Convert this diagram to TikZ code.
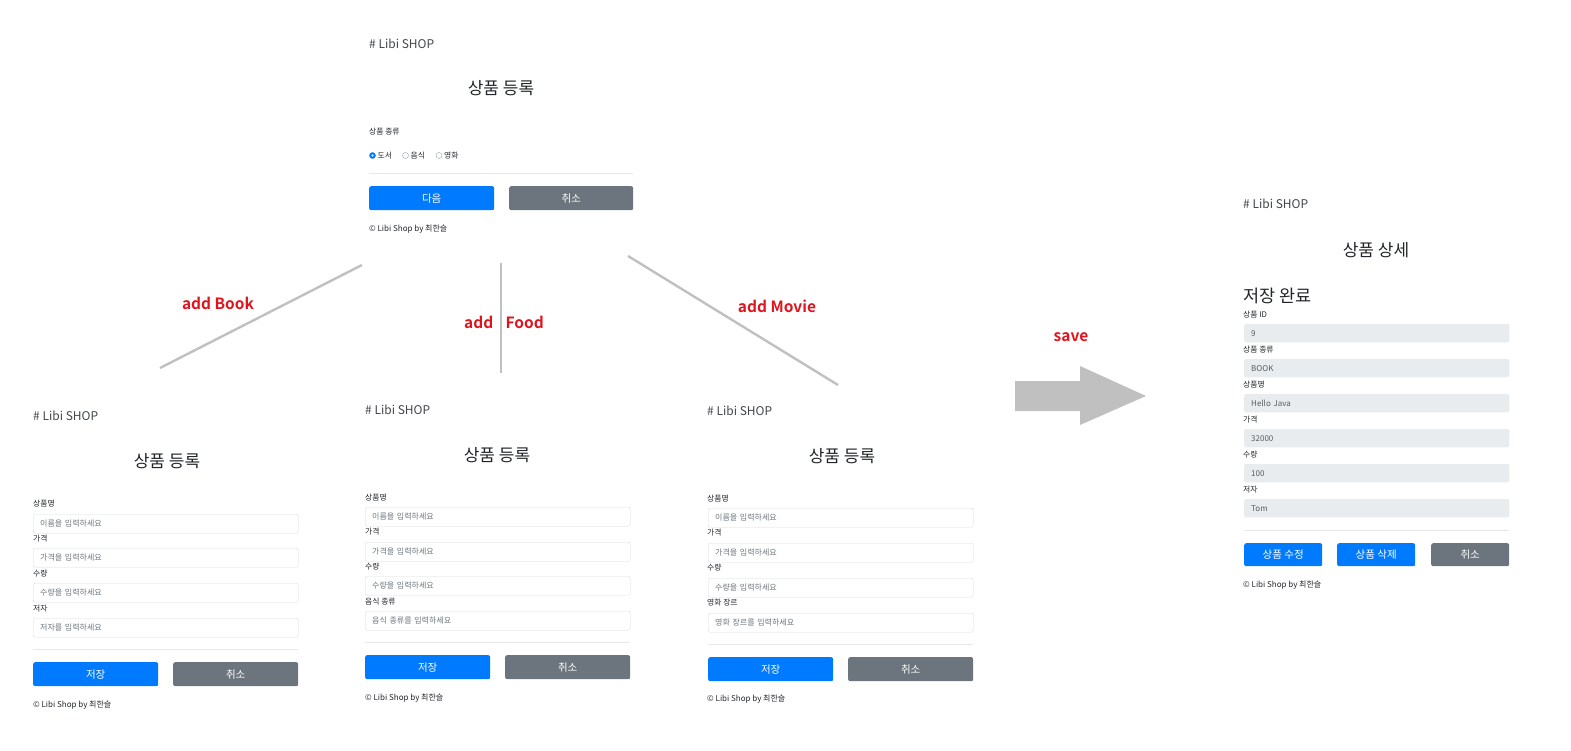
\documentclass[tikz,border=0pt]{standalone}
\usepackage{fontspec}
\setmainfont{Noto Sans CJK KR}[BoldFont={Noto Sans CJK KR Bold}]
\usetikzlibrary{positioning}
\definecolor{textc}{HTML}{212529}
\definecolor{holder}{HTML}{6C757D}
\definecolor{boxline}{HTML}{D6DBE0}
\definecolor{roback}{HTML}{E9ECEF}
\definecolor{btnblue}{HTML}{007BFF}
\definecolor{btngray}{HTML}{6C757D}
\definecolor{sepc}{HTML}{E8E8E8}
\definecolor{linec}{HTML}{C0C0C0}
\definecolor{tagred}{HTML}{E0141E}
\tikzset{
    brand/.style = {anchor=west,inner sep=0pt,text=textc!85,font=\fontsize{12}{13}\selectfont},
    heading/.style = {inner sep=0pt,text=textc,font=\fontsize{17}{18}\selectfont},
    flabel/.style = {anchor=west,inner sep=0pt,text=textc,font=\fontsize{7.8}{8}\selectfont},
    footer/.style = {anchor=west,inner sep=0pt,text=textc,font=\fontsize{8}{9}\selectfont},
    field/.style = {rectangle,draw=boxline,rounded corners=1.5pt,anchor=north west,minimum height=19pt,text width=251pt,inner xsep=7pt,inner ysep=0pt,align=left,text=holder,font=\fontsize{8}{9}\selectfont},
    fieldro/.style = {field,fill=roback,draw=roback,text=textc!75,minimum height=18pt},
    btnb/.style = {rectangle,rounded corners=2pt,fill=btnblue,text=white,anchor=north west,minimum width=125pt,minimum height=24pt,inner sep=0pt,font=\fontsize{10.5}{11}\selectfont},
    btng/.style = {btnb,fill=btngray},
    radioon/.style = {circle,draw=btnblue,fill=btnblue,minimum size=6pt,inner sep=0pt},
    radiooff/.style = {circle,draw=holder!70,fill=white,minimum size=6pt,inner sep=0pt},
    sepline/.style = {draw=sepc,line width=0.8pt},
    edgeg/.style = {-,line width=2.4pt,draw=linec},
    tag/.style = {text=tagred,inner sep=0pt,font=\bfseries\fontsize{15.5}{16}\selectfont}
}
\begin{document}
\begin{tikzpicture}[x=1pt,y=-1pt]
\useasboundingbox (0,0) rectangle (1571,751);
%
% choose the kind
\node[brand] at (369,44) (k0) {\# Libi SHOP};
\node[heading] at (501,88) (k1) {상품 등록};
\node[flabel] at (369,132) (k2) {상품 종류};
\node[radioon] at (372.5,155.5) (r1) {};
\fill[white] (r1.center) circle (1.2);
\node[flabel] at (377.5,155.5) (r1t) {도서};
\node[radiooff] at (405.5,155.5) (r2) {};
\node[flabel] at (410.5,155.5) (r2t) {음식};
\node[radiooff] at (439,155.5) (r3) {};
\node[flabel] at (444,155.5) (r3t) {영화};
\draw[sepline] (369,173) -- (633,173);
\node[btnb] at (369,186) (knext) {다음};
\node[btng,minimum width=124pt] at (509,186) (kcancel) {취소};
\node[footer] at (369,229) (kfoot) {© Libi Shop by 최한슬};
%
% book
\node[brand] at (33,416) (b0) {\# Libi SHOP};
\node[heading] at (167,461) (b1) {상품 등록};
\node[flabel] at (33,504) (b2) {상품명};
\node[field] at (33,514) (b3) {이름을 입력하세요};
\node[flabel] at (33,539) (b4) {가격};
\node[field] at (33,548) (b5) {가격을 입력하세요};
\node[flabel] at (33,574) (b6) {수량};
\node[field] at (33,583) (b7) {수량을 입력하세요};
\node[flabel] at (33,609) (b8) {저자};
\node[field] at (33,618) (b9) {저자를 입력하세요};
\draw[sepline] (33,649) -- (298,649);
\node[btnb] at (33,662) (bsave) {저장};
\node[btng] at (173,662) (bcancel) {취소};
\node[footer] at (33,705) (bfoot) {© Libi Shop by 최한슬};
%
% food
\node[brand] at (365,410) (f0) {\# Libi SHOP};
\node[heading] at (497,455) (f1) {상품 등록};
\node[flabel] at (365,498) (f2) {상품명};
\node[field] at (365,507) (f3) {이름을 입력하세요};
\node[flabel] at (365,532) (f4) {가격};
\node[field] at (365,542) (f5) {가격을 입력하세요};
\node[flabel] at (365,567) (f6) {수량};
\node[field] at (365,576) (f7) {수량을 입력하세요};
\node[flabel] at (365,602) (f8) {음식 종류};
\node[field] at (365,611) (f9) {음식 종류를 입력하세요};
\draw[sepline] (365,642) -- (630,642);
\node[btnb] at (365,655) (fsave) {저장};
\node[btng] at (505,655) (fcancel) {취소};
\node[footer] at (365,698) (ffoot) {© Libi Shop by 최한슬};
%
% movie
\node[brand] at (707,411) (m0) {\# Libi SHOP};
\node[heading] at (842,456) (m1) {상품 등록};
\node[flabel] at (707,499) (m2) {상품명};
\node[field] at (708,508) (m3) {이름을 입력하세요};
\node[flabel] at (707,533) (m4) {가격};
\node[field] at (708,543) (m5) {가격을 입력하세요};
\node[flabel] at (707,568) (m6) {수량};
\node[field] at (708,578) (m7) {수량을 입력하세요};
\node[flabel] at (707,603) (m8) {영화 장르};
\node[field] at (708,613) (m9) {영화 장르를 입력하세요};
\draw[sepline] (708,644) -- (973,644);
\node[btnb] at (708,657) (msave) {저장};
\node[btng] at (848,657) (mcancel) {취소};
\node[footer] at (707,699) (mfoot) {© Libi Shop by 최한슬};
%
% detail
\node[brand] at (1243,204) (d0) {\# Libi SHOP};
\node[heading] at (1376,250) (d1) {상품 상세};
\node[heading,anchor=west,font=\fontsize{17.5}{18}\selectfont] at (1243,296) (d2) {저장 완료};
\node[flabel] at (1243,315) (d3) {상품 ID};
\node[fieldro] at (1244,324) (d4) {9};
\node[flabel] at (1243,350) (d5) {상품 종류};
\node[fieldro] at (1244,359) (d6) {BOOK};
\node[flabel] at (1243,385) (d7) {상품명};
\node[fieldro] at (1244,394) (d8) {Hello Java};
\node[flabel] at (1243,420) (d9) {가격};
\node[fieldro] at (1244,429) (d10) {32000};
\node[flabel] at (1243,455) (d11) {수량};
\node[fieldro] at (1244,464) (d12) {100};
\node[flabel] at (1243,490) (d13) {저자};
\node[fieldro] at (1244,499) (d14) {Tom};
\draw[sepline] (1244,530) -- (1509,530);
\node[btnb,minimum width=78pt,minimum height=23pt] at (1244,543) (dedit) {상품 수정};
\node[btnb,minimum width=78pt,minimum height=23pt] at (1337,543) (ddel) {상품 삭제};
\node[btng,minimum width=78pt,minimum height=23pt] at (1431,543) (dcancel) {취소};
\node[footer] at (1243,585) (dfoot) {© Libi Shop by 최한슬};
%
% links
\coordinate (kB) at (362,265);
\coordinate (kF) at (501,263);
\coordinate (kM) at (628,256);
\coordinate (bT) at (160,368);
\coordinate (fT) at (501,373);
\coordinate (mT) at (838,385);
\draw[edgeg] (kB) -- (bT);
\draw[edgeg] (kF) -- (fT);
\draw[edgeg] (kM) -- (mT);
\node[tag] at (218,303) (tb) {add Book};
\node[tag] at (504,322) (tf) {add\hspace{0.8em}Food};
\node[tag] at (777,306) (tm) {add Movie};
\node[tag] at (1071,337) (ts) {save};
\fill[linec] (1015,381) -- (1080,381) -- (1080,366) -- (1146,396) -- (1080,425) -- (1080,411) -- (1015,411) -- cycle;
\end{tikzpicture}
\end{document}
